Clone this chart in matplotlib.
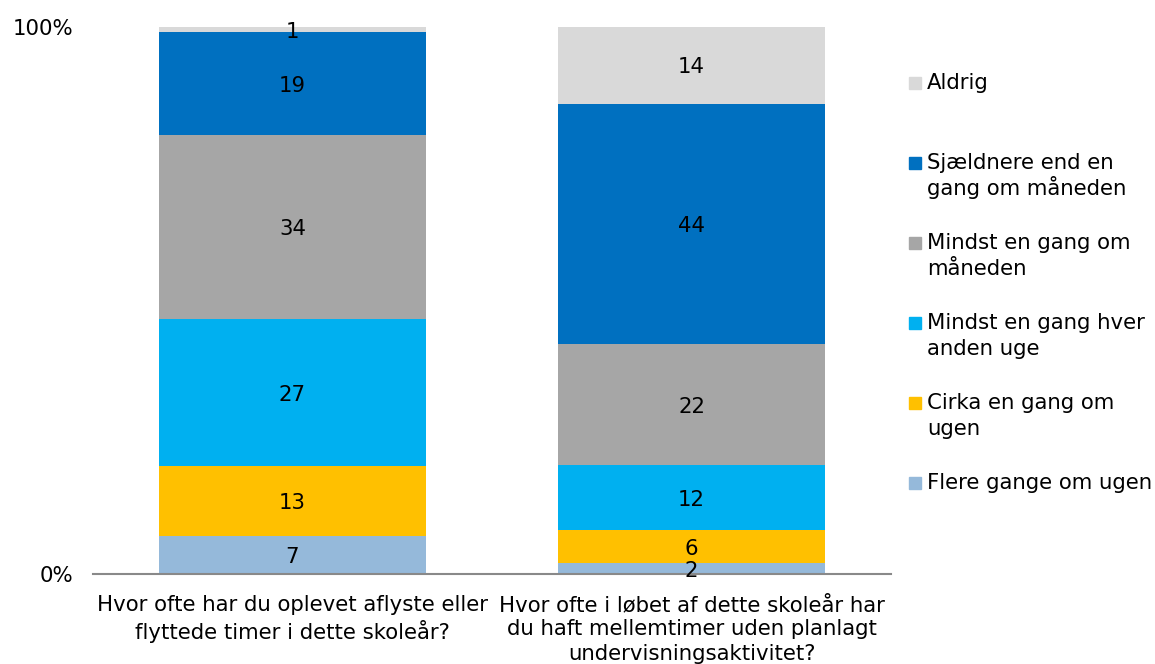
import numpy as np
import matplotlib.pyplot as plt
from matplotlib.patches import Rectangle

# Kategorier (spørgsmål) og svarandele i procent, fra bunden og op
spoergsmaal = [
    "Hvor ofte har du oplevet aflyste eller\nflyttede timer i dette skoleår?",
    "Hvor ofte i løbet af dette skoleår har\ndu haft mellemtimer uden planlagt\nundervisningsaktivitet?",
]
svar = [
    "Flere gange om ugen",
    "Cirka en gang om\nugen",
    "Mindst en gang hver\nanden uge",
    "Mindst en gang om\nmåneden",
    "Sjældnere end en\ngang om måneden",
    "Aldrig",
]
flere_gange = [7, 2]
cirka_ugen = [13, 6]
hver_anden_uge = [27, 12]
om_maaneden = [34, 22]
sjaeldnere = [19, 44]
aldrig = [1, 14]

farver = ["#95B9DA", "#FFC000", "#00B0F0", "#A6A6A6", "#0070C0", "#D9D9D9"]

FONT = 15.3


def main(ruta_grafico):
    serier = np.array([flere_gange, cirka_ugen, hver_anden_uge,
                       om_maaneden, sjaeldnere, aldrig], dtype=float)
    # 100 % stablet
    andele = serier / serier.sum(axis=0) * 100

    fig = plt.figure(figsize=(11.55, 6.64), dpi=100)
    ax = fig.add_axes([93 / 1155, 90 / 664, (891 - 93) / 1155, 547 / 664])

    x = np.arange(len(spoergsmaal))
    bund = np.zeros(len(spoergsmaal))
    for i in range(len(svar)):
        ax.bar(x, andele[i], bottom=bund, width=0.668, color=farver[i], linewidth=0)
        for j in range(len(x)):
            ax.annotate(f"{serier[i][j]:.0f}", (x[j], bund[j] + andele[i][j] / 2),
                        xytext=(0, -1.5), textcoords="offset points",
                        ha="center", va="center", fontsize=FONT, color="black")
        bund += andele[i]

    ax.set_xlim(-0.5, 1.5)
    ax.set_ylim(0, 100)
    ax.set_yticks([0, 100])
    ax.set_yticklabels(["0%", "100%"], fontsize=FONT)
    ax.set_xticks(x)
    ax.set_xticklabels(spoergsmaal, fontsize=FONT, linespacing=1.28)
    ax.tick_params(axis="both", length=0)
    ax.tick_params(axis="y", pad=14)
    ax.tick_params(axis="x", pad=15)
    for side in ["left", "right", "top"]:
        ax.spines[side].set_visible(False)
    ax.spines["bottom"].set_color("#898989")
    ax.spines["bottom"].set_linewidth(1.5)

    # Forklaring til højre, øverste svar først
    for k, i in enumerate(range(len(svar) - 1, -1, -1)):
        basis = 89 + 80 * k
        fig.patches.append(Rectangle((909 / 1155, 1 - basis / 664), 12 / 1155, 12 / 664,
                                     transform=fig.transFigure, color=farver[i]))
        for n, linje in enumerate(svar[i].split("\n")):
            fig.text(927 / 1155, 1 - (basis + 26 * n) / 664, linje, fontsize=FONT,
                     va="baseline", ha="left")

    plt.savefig(ruta_grafico)


if __name__ == "__main__":
    main("out.png")
